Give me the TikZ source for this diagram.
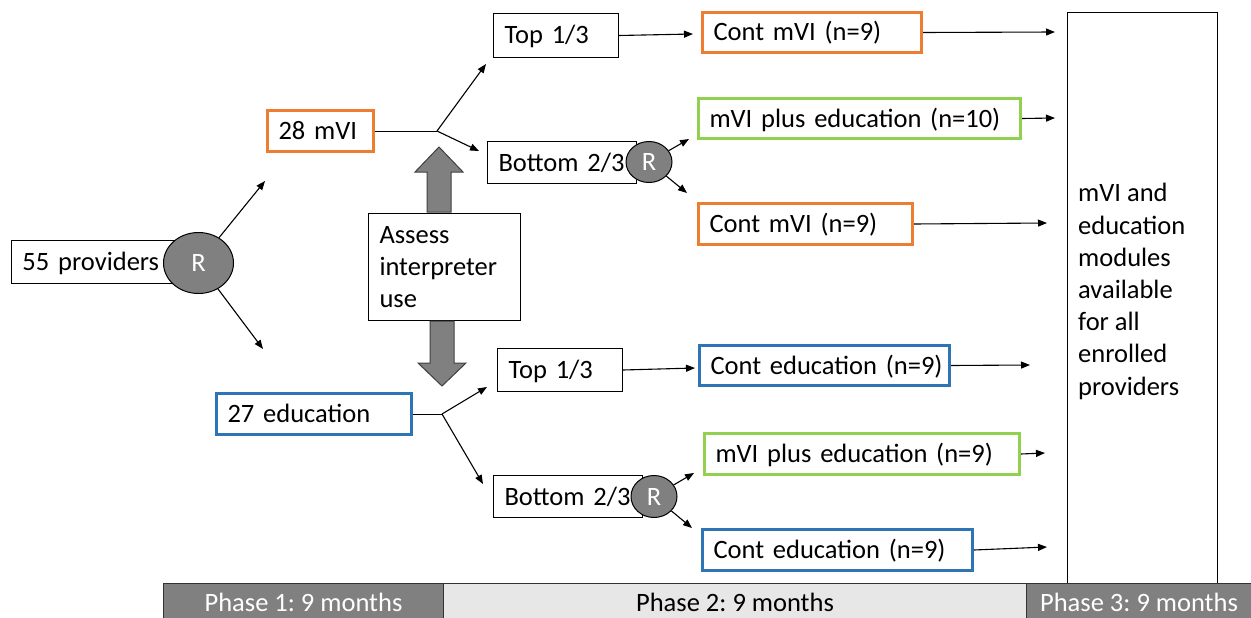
\documentclass[tikz,border=0pt]{standalone}
\usepackage{fontspec}
\setmainfont{Carlito}
\usetikzlibrary{arrows.meta,shapes.geometric}
\definecolor{orng}{RGB}{237,125,49}
\definecolor{grn}{RGB}{146,208,80}
\definecolor{blu}{RGB}{46,117,182}
\definecolor{gry}{RGB}{128,128,128}
\definecolor{lgry}{RGB}{231,231,231}
\frenchspacing
\begin{document}
\begin{tikzpicture}[x=1pt,y=-1pt,
  every node/.style={font=\fontsize{26.5}{32.2}\selectfont},
  bx0/.style={draw, line width=1pt, anchor=north west, inner xsep=11pt, inner ysep=0pt, align=left, fill=white},
  bx/.style={bx0, text height=17pt, text depth=0pt},
  ob/.style={bx, draw=orng, line width=3pt},
  gb/.style={bx, draw=grn, line width=3pt},
  bb/.style={bx, draw=blu, line width=3pt},
  rc/.style={ellipse, draw, fill=gry, line width=1pt, text=white, inner sep=0pt, text height=17pt, text depth=0pt},
  ln/.style={line width=1pt},
  arr/.style={line width=1.1pt, -{Triangle[length=9pt,width=7pt]}},
  fat/.style={draw=black!75, line width=1pt, fill=gry},
  ph/.style={draw=black!80, line width=1pt, anchor=north west, minimum height=35pt, inner sep=0pt, text height=20pt, text depth=0pt}
]
\useasboundingbox (0,0) rectangle (1251,618);

% phase 1
\node[bx, text width=147pt, minimum height=43pt] (prov) at (11,240) {55 providers};
\node[rc, minimum width=70pt, minimum height=61pt] (R1) at (198.5,263) {R};
\coordinate (a1) at (265,181);
\coordinate (a2) at (263,349);
\draw[arr] (R1) -- (a1);
\draw[arr] (R1) -- (a2);

\node[ob, text width=84pt, minimum height=41pt] (mvi28) at (266,109) {28 mVI};
\node[bb, text width=173pt, minimum height=41pt] (edu27) at (215,392) {27 education};

% assess
\node[bx0, text width=130pt, minimum height=107pt] (assess) at (368,213) {Assess\\interpreter\\use};
\draw[fat] (427,212) -- (427,172) -- (415,172) -- (439,147) -- (463,172) -- (451,172) -- (451,212) -- cycle;
\draw[fat] (430,321) -- (430,363) -- (418,363) -- (442,386) -- (466,363) -- (454,363) -- (454,321) -- cycle;

% upper branch
\coordinate (j1) at (437,131);
\coordinate (b1) at (486,64);
\coordinate (b2) at (479,151);
\draw[ln] (mvi28.east) -- (j1);
\draw[arr] (j1) -- (b1);
\draw[arr] (j1) -- (b2);

\node[bx, text width=103pt, minimum height=44pt] (top1) at (493,13) {Top 1/3};
\node[bx, text width=127pt, minimum height=42pt] (bot1) at (487,141) {\mbox{Bottom 2/3}};
\node[rc, minimum width=46pt, minimum height=41pt] (R2) at (649,162) {R};

\node[ob, text width=197pt, minimum height=40pt] (contA) at (701,11) {\mbox{Cont mVI (n=9)}};
\node[gb, text width=300pt, minimum height=40pt] (plusA) at (697,97) {\mbox{mVI plus education (n=10)}};
\node[ob, text width=192pt, minimum height=41pt] (contB) at (697,202) {\mbox{Cont mVI (n=9)}};

\coordinate (e1) at (693,34);
\coordinate (r2a) at (689,139);
\coordinate (r2b) at (687,193);
\draw[arr] (top1.east) -- (e1);
\draw[arr] (R2) -- (r2a);
\draw[arr] (R2) -- (r2b);

% lower branch
\coordinate (j2) at (442,414);
\coordinate (b3) at (487,387);
\coordinate (b4) at (483,484);
\draw[ln] (edu27.east) -- (j2);
\draw[arr] (j2) -- (b3);
\draw[arr] (j2) -- (b4);

\node[bx, text width=103pt, minimum height=43pt] (top2) at (497,348) {Top 1/3};
\node[bx, text width=127pt, minimum height=42pt] (bot2) at (493,475) {\mbox{Bottom 2/3}};
\node[rc, minimum width=46pt, minimum height=42pt] (R3) at (654,496.5) {R};

\node[bb, text width=228pt, minimum height=40pt] (contEdA) at (698,344) {\mbox{Cont education (n=9)}};
\node[gb, text width=293pt, minimum height=41pt] (plusB) at (703,432) {\mbox{mVI plus education (n=9)}};
\node[bb, text width=248pt, minimum height=41pt] (contEdB) at (701,528) {\mbox{Cont education (n=9)}};

\coordinate (e5) at (695,368);
\coordinate (r3a) at (694,473);
\coordinate (r3b) at (692,528);
\draw[arr] (top2.east) -- (e5);
\draw[arr] (R3) -- (r3a);
\draw[arr] (R3) -- (r3b);

% phase 3 box
\node[draw, line width=1pt, anchor=north west, minimum width=150pt, minimum height=571pt, inner sep=0pt] (avail) at (1067,12) {};
\node[anchor=west, align=left, inner sep=0pt] (availtxt) at (1078,291.5) {mVI and\\education\\modules\\available\\for all\\enrolled\\providers};

\coordinate (e2) at (1055,32);
\coordinate (e3) at (1055,118);
\coordinate (e4) at (1047,223);
\coordinate (e6) at (1030,365);
\coordinate (e7) at (1045,453);
\coordinate (e8) at (1047,547);
\draw[arr] (contA.east) -- (e2);
\draw[arr] (plusA.east) -- (e3);
\draw[arr] (contB.east) -- (e4);
\draw[arr] (contEdA.east) -- (e6);
\draw[arr] (plusB.east) -- (e7);
\draw[arr] (contEdB.east) -- (e8);

% phase bar
\node[ph, fill=gry, text=white, minimum width=280pt] (ph1) at (163,583) {Phase 1: 9 months};
\node[ph, fill=lgry, minimum width=583pt] (ph2) at (443,583) {Phase 2: 9 months};
\node[ph, fill=gry, text=white, minimum width=225pt] (ph3) at (1026,583) {Phase 3: 9 months};
\end{tikzpicture}
\end{document}
